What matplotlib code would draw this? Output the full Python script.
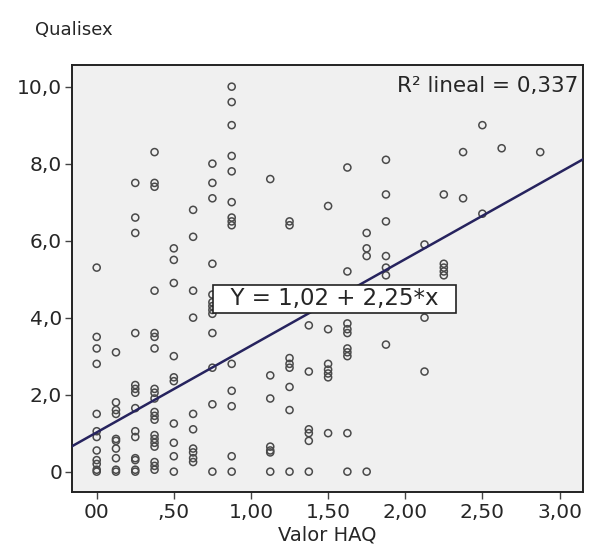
import matplotlib
matplotlib.use("Agg")
import matplotlib.pyplot as plt

# HAQ levels (x) and the Qualisex scores read for each level
haq_levels = [0.0, 0.125, 0.25, 0.375, 0.5, 0.625, 0.75, 0.875, 1.125, 1.25,
              1.375, 1.5, 1.625, 1.75, 1.875, 2.125, 2.25, 2.375, 2.5, 2.625, 2.875]
qualisex_by_level = [
    [5.3, 3.5, 3.2, 2.8, 1.5, 1.05, 0.9, 0.55, 0.3, 0.2, 0.05, 0.0],
    [3.1, 1.8, 1.6, 1.5, 0.85, 0.8, 0.6, 0.35, 0.05, 0.0],
    [7.5, 6.6, 6.2, 3.6, 2.25, 2.15, 2.05, 1.65, 1.05, 0.9, 0.35, 0.3, 0.05, 0.0],
    [8.3, 7.5, 7.4, 4.7, 3.6, 3.5, 3.2, 2.15, 2.05, 1.9, 1.55, 1.45, 1.35, 0.95,
     0.85, 0.75, 0.65, 0.25, 0.15, 0.05],
    [5.8, 5.5, 4.9, 3.0, 2.45, 2.35, 1.25, 0.75, 0.4, 0.0],
    [6.8, 6.1, 4.7, 4.0, 1.5, 1.1, 0.6, 0.5, 0.35, 0.25],
    [8.0, 7.5, 7.1, 5.4, 4.6, 4.4, 4.3, 4.2, 4.1, 3.6, 2.7, 1.75, 0.0],
    [10.0, 9.6, 9.0, 8.2, 7.8, 7.0, 6.6, 6.5, 6.4, 2.8, 2.1, 1.7, 0.4, 0.0],
    [7.6, 2.5, 1.9, 0.65, 0.55, 0.5, 0.0],
    [6.5, 6.4, 2.95, 2.8, 2.7, 2.2, 1.6, 0.0],
    [3.8, 2.6, 1.1, 1.0, 0.8, 0.0],
    [6.9, 3.7, 2.8, 2.65, 2.55, 2.45, 1.0],
    [7.9, 5.2, 3.85, 3.7, 3.6, 3.2, 3.1, 3.0, 1.0, 0.0],
    [6.2, 5.8, 5.6, 0.0],
    [8.1, 7.2, 6.5, 5.6, 5.3, 5.1, 3.3],
    [5.9, 4.0, 2.6],
    [7.2, 5.4, 5.3, 5.2, 5.1],
    [8.3, 7.1],
    [9.0, 6.7],
    [8.4],
    [8.3],
]

intercept = 1.02
slope = 2.25
r2 = 0.337

x_ticks = [0, 0.5, 1.0, 1.5, 2.0, 2.5, 3.0]
x_labels = ["00", ",50", "1,00", "1,50", "2,00", "2,50", "3,00"]
y_ticks = [0, 2, 4, 6, 8, 10]
y_labels = ["0", "2,0", "4,0", "6,0", "8,0", "10,0"]

haq = []
qualisex = []
for lvl, vals in zip(haq_levels, qualisex_by_level):
    haq += [lvl] * len(vals)
    qualisex += vals

plt.rcParams['font.family'] = ['DejaVu Sans']
txt_col = "#262626"

fig = plt.figure(figsize=(5.89, 5.54), dpi=100)
ax = fig.add_axes([0.122, 0.1125, 0.868, 0.770])
ax.set_facecolor("#f0f0f0")

ax.scatter(haq, qualisex, s=26, facecolors="none", edgecolors="#4a4a4a",
           linewidths=1.1, zorder=3)

xmin, xmax = -0.161, 3.153
ax.plot([xmin, xmax], [intercept + slope * xmin, intercept + slope * xmax],
        color="#26235e", lw=1.8, zorder=4)

ax.set_xlim(xmin, xmax)
ax.set_ylim(-0.52, 10.56)
ax.set_xticks(x_ticks)
ax.set_xticklabels(x_labels, fontsize=14.5, color=txt_col)
ax.set_yticks(y_ticks)
ax.set_yticklabels(y_labels, fontsize=14.5, color=txt_col)
ax.tick_params(direction="out", length=5, width=1, color="#444444", pad=3)
ax.tick_params(axis="y", pad=2)
for sp in ax.spines.values():
    sp.set_linewidth(1.4)
    sp.set_color("#222222")

ax.text(0.99, 0.975, "R² lineal = " + f"{r2:.3f}".replace(".", ","),
        transform=ax.transAxes, ha="right", va="top", fontsize=15.5,
        color=txt_col, zorder=6)

eq = "Y = " + f"{intercept:.2f}".replace(".", ",") + " + " + \
     f"{slope:.2f}".replace(".", ",") + "*x"
ax.text(1.54, 4.49, "  " + eq + "  ", ha="center", va="center", fontsize=16.5,
        color=txt_col, zorder=6,
        bbox=dict(boxstyle="square,pad=0.12", fc="white", ec="#222222", lw=1.2))

ax.set_xlabel("Valor HAQ", fontsize=14, color=txt_col, labelpad=3)
fig.text(0.06, 0.945, "Qualisex", fontsize=13, color=txt_col, ha="left", va="center")

fig.savefig("out.png", dpi=100)
